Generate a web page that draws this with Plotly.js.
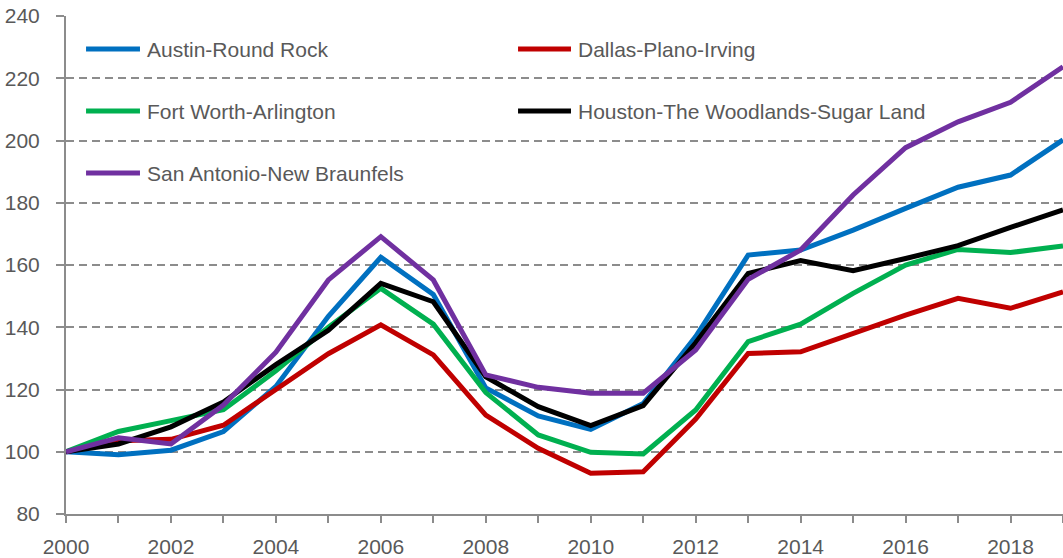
<!DOCTYPE html>
<html>
<head>
<meta charset="utf-8">
<script src="https://cdn.plot.ly/plotly-3.0.1.min.js"></script>
<style>html,body{margin:0;padding:0;background:#fff;}#chart{width:1063px;height:558px;}</style>
</head>
<body>
<div id="chart"></div>
<script>
const years = [2000,2001,2002,2003,2004,2005,2006,2007,2008,2009,2010,2011,2012,2013,2014,2015,2016,2017,2018,2019];
const xTickLabels = ['2000','','2002','','2004','','2006','','2008','','2010','','2012','','2014','','2016','','2018',''];
const seriesNames = ['Austin-Round Rock','Dallas-Plano-Irving','Fort Worth-Arlington','Houston-The Woodlands-Sugar Land','San Antonio-New Braunfels'];
const austin   = [100,99,100.5,106.5,121,143.5,162.5,150.5,120.5,111.5,107.2,115.5,137,163.2,164.8,171.2,178.2,185,188.9,200.2];
const dallas   = [100,103.5,104,108.5,120,131.5,140.8,131.1,111.8,101.1,93.1,93.6,110.5,131.6,132.1,138,143.9,149.3,146.1,151.4];
const fortWorth= [100,106.5,110,113.5,126,140,152.5,141,119,105.4,99.8,99.3,113.4,135.4,141,150.9,160,165,164,166.1];
const houston  = [100,102.5,108,116,128,139,154.1,148.2,124.1,114.5,108.4,114.8,135,157.3,161.4,158.2,162.1,166.2,172.1,177.7];
const sanAntonio=[100,104.5,102.5,115,132,155.2,169.1,155.2,124.7,120.7,118.8,118.8,132.7,155.4,164.8,182.5,197.7,206,212.3,223.7];
const seriesValues = [austin, dallas, fortWorth, houston, sanAntonio];
const seriesColors = ['#0070C0','#C00000','#00B050','#000000','#7030A0'];

const traces = seriesValues.map((vals, i) => ({
  x: years, y: vals, type: 'scatter', mode: 'lines', name: seriesNames[i],
  line: {color: seriesColors[i], width: 5}, showlegend: false, hoverinfo: 'skip'
}));

// Custom legend (two columns, three rows), positioned in plot-area paper units
const legendCols = [[0.0201, 0.0742, 0.0792], [0.4534, 0.5065, 0.5115]];
const legendRows = [0.9337, 0.8092, 0.6847];
const shapes = [], annotations = [];
seriesNames.forEach((nm, i) => {
  const c = legendCols[i % 2], r = legendRows[Math.floor(i / 2)];
  shapes.push({type: 'line', xref: 'paper', yref: 'paper', x0: c[0], x1: c[1], y0: r, y1: r,
    line: {color: seriesColors[i], width: 5}});
  annotations.push({xref: 'paper', yref: 'paper', x: c[2], y: r, text: nm, showarrow: false,
    xanchor: 'left', yanchor: 'middle', font: {family: 'Liberation Sans, Arial, sans-serif', size: 21, color: '#595959'}});
});
// round line caps for legend lines are not available; fine.

const layout = {
  width: 1063, height: 558,
  margin: {l: 66, r: 0, t: 16, b: 44, pad: 0},
  paper_bgcolor: '#ffffff', plot_bgcolor: '#ffffff',
  showlegend: false,
  font: {family: 'Liberation Sans, Arial, sans-serif', size: 21, color: '#595959'},
  xaxis: {
    range: [2000, 2019], tickmode: 'array', tickvals: years, ticktext: xTickLabels,
    showgrid: false, zeroline: false, showline: true, linecolor: '#8c8c8c', linewidth: 2,
    ticks: 'outside', ticklen: 7, tickwidth: 2, tickcolor: '#8c8c8c',
    tickfont: {family: 'Liberation Sans, Arial, sans-serif', size: 21, color: '#595959'},
    ticklabelstandoff: 6, fixedrange: true
  },
  yaxis: {
    range: [80, 240], dtick: 20, tick0: 80,
    showgrid: true, gridcolor: '#8c8c8c', gridwidth: 2, griddash: '8px,5px',
    zeroline: false, showline: true, linecolor: '#8c8c8c', linewidth: 2,
    ticks: 'outside', ticklen: 8, tickwidth: 2, tickcolor: '#8c8c8c',
    tickfont: {family: 'Liberation Sans, Arial, sans-serif', size: 21, color: '#595959'},
    ticklabelstandoff: 12, fixedrange: true
  },
  shapes: shapes,
  annotations: annotations
};

Plotly.newPlot('chart', traces, layout, {displayModeBar: false, staticPlot: true});
</script>
</body>
</html>
